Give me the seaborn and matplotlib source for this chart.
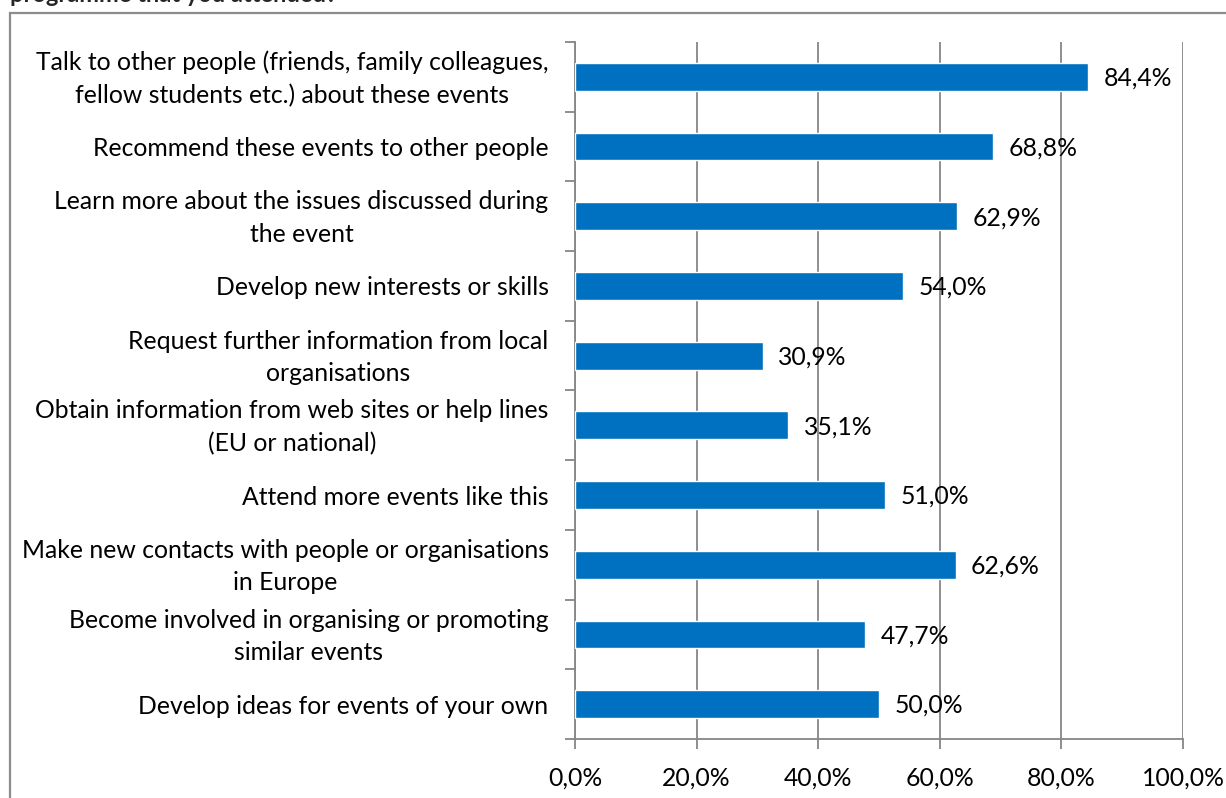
import matplotlib
matplotlib.use("Agg")
import matplotlib.pyplot as plt
import matplotlib.transforms as mtransforms
from matplotlib.patches import Rectangle
from matplotlib.ticker import FixedLocator, FuncFormatter
import seaborn as sns
import pandas as pd

categories = [
    "Talk to other people (friends, family colleagues,\nfellow students etc.) about these events",
    "Recommend these events to other people",
    "Learn more about the issues discussed during\nthe event",
    "Develop new interests or skills",
    "Request further information from local\norganisations",
    "Obtain information from web sites or help lines\n(EU or national)",
    "Attend more events like this",
    "Make new contacts with people or organisations\nin Europe",
    "Become involved in organising or promoting\nsimilar events",
    "Develop ideas for events of your own",
]
values = [84.4, 68.8, 62.9, 54.0, 30.9, 35.1, 51.0, 62.6, 47.7, 50.0]
x_ticks = [0, 20, 40, 60, 80, 100]

sns.set_theme(style="white")
plt.rcParams["font.family"] = ["Lato", "DejaVu Sans"]

FS = 17.8

df = pd.DataFrame({"category": categories, "value": values})

W, H = 1226, 798
fig = plt.figure(figsize=(W / 100, H / 100), dpi=100)
ax = fig.add_axes([575 / W, 1 - 739 / H, (1183 - 575) / W, (739 - 42) / H])

sns.barplot(data=df, x="value", y="category", orient="h", color="#0070C0",
            saturation=1, width=0.4, ax=ax, zorder=3)

grey = "#868686"
ax.set_xlim(0, 100)
ax.set_ylim(len(categories) - 0.5, -0.5)
ax.set_xlabel("")
ax.set_ylabel("")

ax.xaxis.set_major_locator(FixedLocator(x_ticks))
ax.xaxis.set_major_formatter(FuncFormatter(lambda v, p: f"{v:.1f}%".replace(".", ",")))
ax.grid(axis="x", color=grey, linewidth=1.3, zorder=0)
ax.set_axisbelow(True)

for side in ["top", "right"]:
    ax.spines[side].set_visible(False)
for side in ["left", "bottom"]:
    ax.spines[side].set_color(grey)
    ax.spines[side].set_linewidth(1.3)

ax.tick_params(axis="x", which="major", direction="out", length=7, width=1.3,
               color=grey, pad=13, labelsize=FS, labelcolor="black", bottom=True)
ax.tick_params(axis="y", which="major", length=0, pad=19, labelsize=FS,
               labelcolor="black")
ax.yaxis.set_minor_locator(FixedLocator([i - 0.5 for i in range(len(categories) + 1)]))
ax.tick_params(axis="y", which="minor", direction="out", length=7, width=1.3,
               color=grey, left=True)

# nudge category labels slightly downward
nudge = mtransforms.ScaledTranslation(0, -2 / 100, fig.dpi_scale_trans)
for lbl in ax.get_yticklabels():
    lbl.set_multialignment("center")
    lbl.set_linespacing(1.5)
    lbl.set_verticalalignment("center")
    lbl.set_transform(lbl.get_transform() + nudge)

for i, v in enumerate(values):
    ax.annotate(f"{v:.1f}%".replace(".", ","), xy=(v, i), xytext=(11, -1),
                textcoords="offset points", va="center", ha="left",
                fontsize=FS, color="black", zorder=4)

# outer frame around the chart area
fig.patches.append(Rectangle((10 / W, -0.05), 1.1, 1 - 13 / H + 0.05,
                             transform=fig.transFigure, fill=False,
                             edgecolor="#8c8c8c", linewidth=1.6))

fig.text(10 / W, 1 - 2 / H, "programme that you attended?", fontsize=17,
         fontweight="bold", ha="left", va="baseline")

fig.savefig("out.png", dpi=100)
